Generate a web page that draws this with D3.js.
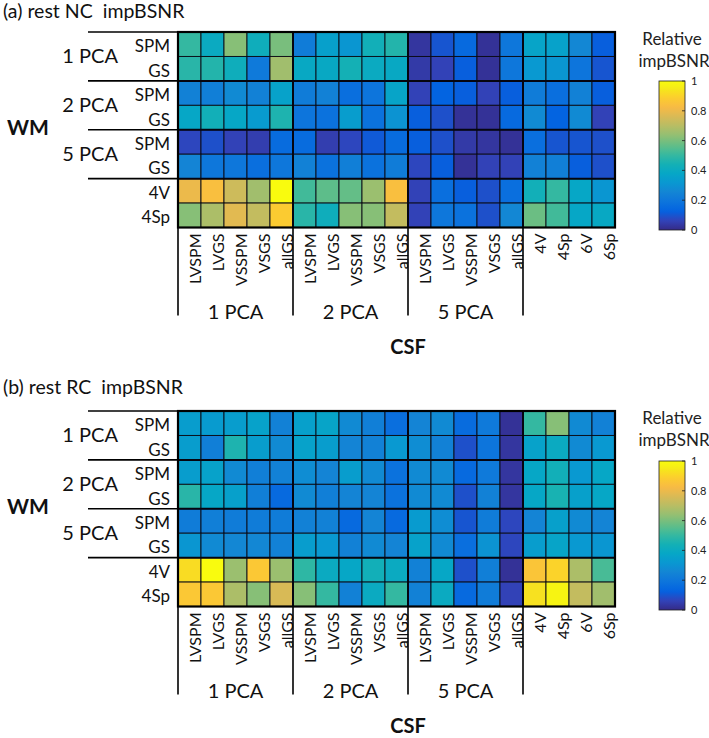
<!DOCTYPE html>
<html>
<head>
<meta charset="utf-8">
<script src="https://cdn.jsdelivr.net/npm/d3@7"></script>
<style>
  html, body { margin: 0; padding: 0; background: #fff; }
  svg { display: block; font-family: Lato, "Open Sans", sans-serif; }
  .ttl { white-space: pre; }
</style>
</head>
<body>
<svg id="chart" width="709" height="738"></svg>
<script>
// ---------------- data ----------------
const csfLabels = ["LVSPM","LVGS","VSSPM","VSGS","allGS",
                   "LVSPM","LVGS","VSSPM","VSGS","allGS",
                   "LVSPM","LVGS","VSSPM","VSGS","allGS",
                   "4V","4Sp","6V","6Sp"];
const csfGroups = ["1 PCA","2 PCA","5 PCA"];
const csfGroupStarts = [0, 5, 10, 15];
const wmLabels = ["SPM","GS","SPM","GS","SPM","GS","4V","4Sp"];
const wmGroups = ["1 PCA","2 PCA","5 PCA"];
const colorbarTicks = [0, 0.2, 0.4, 0.6, 0.8, 1];

const valuesNC = [
  [0.50,0.40,0.62,0.42,0.60,0.22,0.35,0.31,0.43,0.47,0.03,0.10,0.15,0.02,0.20,0.37,0.36,0.26,0.12],
  [0.48,0.47,0.42,0.21,0.66,0.39,0.39,0.44,0.40,0.39,0.04,0.06,0.12,0.02,0.20,0.32,0.31,0.19,0.10],
  [0.24,0.23,0.27,0.24,0.36,0.22,0.24,0.17,0.19,0.37,0.06,0.13,0.12,0.06,0.12,0.22,0.17,0.24,0.12],
  [0.38,0.43,0.38,0.33,0.46,0.19,0.18,0.34,0.18,0.30,0.12,0.09,0.02,0.02,0.15,0.27,0.13,0.27,0.06],
  [0.07,0.09,0.06,0.05,0.16,0.16,0.05,0.07,0.11,0.16,0.12,0.09,0.04,0.03,0.02,0.17,0.10,0.10,0.09],
  [0.25,0.20,0.20,0.17,0.20,0.24,0.18,0.23,0.18,0.22,0.07,0.12,0.02,0.06,0.06,0.24,0.23,0.12,0.09],
  [0.80,0.84,0.74,0.66,1.00,0.52,0.56,0.57,0.65,0.84,0.06,0.17,0.12,0.09,0.17,0.43,0.50,0.38,0.31],
  [0.62,0.68,0.78,0.72,0.88,0.48,0.42,0.62,0.62,0.72,0.06,0.20,0.18,0.09,0.26,0.58,0.52,0.38,0.39]
];

const valuesRC = [
  [0.34,0.33,0.34,0.36,0.24,0.35,0.37,0.27,0.23,0.17,0.25,0.27,0.16,0.21,0.02,0.50,0.62,0.27,0.24],
  [0.34,0.23,0.46,0.34,0.27,0.36,0.34,0.25,0.24,0.32,0.28,0.24,0.09,0.19,0.03,0.36,0.40,0.27,0.32],
  [0.34,0.36,0.27,0.23,0.24,0.28,0.25,0.34,0.27,0.18,0.27,0.27,0.15,0.21,0.03,0.38,0.43,0.32,0.38],
  [0.48,0.38,0.35,0.23,0.15,0.27,0.23,0.25,0.25,0.18,0.27,0.27,0.09,0.24,0.03,0.38,0.45,0.35,0.38],
  [0.22,0.23,0.22,0.22,0.22,0.24,0.24,0.15,0.25,0.15,0.33,0.28,0.10,0.22,0.07,0.25,0.35,0.27,0.25],
  [0.31,0.27,0.26,0.26,0.24,0.34,0.32,0.24,0.27,0.25,0.36,0.27,0.17,0.30,0.07,0.34,0.37,0.32,0.31],
  [0.92,1.00,0.65,0.87,0.65,0.49,0.40,0.38,0.43,0.40,0.24,0.38,0.09,0.23,0.02,0.86,0.90,0.68,0.53],
  [0.87,0.87,0.68,0.62,0.76,0.62,0.50,0.24,0.40,0.50,0.24,0.40,0.15,0.22,0.06,0.93,0.98,0.72,0.66]
];

// parula colormap (subsampled)
const parulaColors = ["#352a87","#3243ba","#0363e1","#0d75dc","#1485d4","#0998d1","#06a7c6",
  "#15b1b4","#38b99e","#65be86","#92bf73","#b7bd64","#d9ba56","#f8ba44","#fcce2e","#f5eb18","#f9fb0e"];
const parulaStops = [0,4,8,12,16,20,24,28,32,36,40,44,48,52,56,60,63].map(i => i / 63);
const color = d3.scaleLinear().domain(parulaStops).range(parulaColors).interpolate(d3.interpolateRgb).clamp(true);

// ---------------- layout ----------------
const svg = d3.select("#chart");
const gridX0 = 178, gridX1 = 615;
const gridH = 195.5;

const defs = svg.append("defs");
const grad = defs.append("linearGradient").attr("id", "parula")
  .attr("x1", 0).attr("y1", 1).attr("x2", 0).attr("y2", 0);
d3.range(0, 1.0001, 0.02).forEach(t => {
  grad.append("stop").attr("offset", t).attr("stop-color", color(t));
});

function drawPanel(values, title, gy, titleY, cbTop, cbTitleY) {
  const g = svg.append("g");
  const x = d3.scaleBand().domain(d3.range(csfLabels.length)).range([gridX0, gridX1]);
  const y = d3.scaleBand().domain(d3.range(wmLabels.length)).range([gy, gy + gridH]);
  const gy1 = gy + gridH;

  // title
  g.append("text").attr("class", "ttl").attr("x", 3).attr("y", titleY)
    .attr("font-size", 19.5).attr("fill", "#111").text(title);

  // cells
  const cells = [];
  values.forEach((row, r) => row.forEach((v, c) => cells.push({r, c, v})));
  g.selectAll("rect.cell").data(cells).join("rect")
    .attr("class", "cell")
    .attr("x", d => x(d.c)).attr("y", d => y(d.r))
    .attr("width", x.bandwidth()).attr("height", y.bandwidth())
    .attr("fill", d => color(d.v))
    .attr("stroke", "#0a0a14").attr("stroke-width", 0.9);

  // group separators inside grid
  csfGroupStarts.slice(1).forEach(i => {
    g.append("line").attr("x1", x(i)).attr("x2", x(i)).attr("y1", gy).attr("y2", gy1)
      .attr("stroke", "#050510").attr("stroke-width", 2);
  });
  [2, 4, 6].forEach(i => {
    g.append("line").attr("x1", gridX0).attr("x2", gridX1).attr("y1", y(i)).attr("y2", y(i))
      .attr("stroke", "#050510").attr("stroke-width", 2);
  });
  g.append("rect").attr("x", gridX0).attr("y", gy).attr("width", gridX1 - gridX0).attr("height", gridH)
    .attr("fill", "none").attr("stroke", "#000").attr("stroke-width", 2.2);

  // left row-group lines
  [0, 2, 4, 6].forEach(i => {
    g.append("line").attr("x1", 88).attr("x2", gridX0).attr("y1", y(i)).attr("y2", y(i))
      .attr("stroke", "#000").attr("stroke-width", 1.6);
  });

  // WM sub labels
  g.selectAll("text.wm").data(wmLabels).join("text")
    .attr("class", "wm")
    .attr("x", 170).attr("y", (d, i) => y(i) + y.bandwidth() / 2 + 8)
    .attr("text-anchor", "end").attr("font-size", 17).attr("fill", "#111")
    .text(d => d);
  // WM group labels
  g.selectAll("text.wmg").data(wmGroups).join("text")
    .attr("class", "wmg")
    .attr("x", 118).attr("y", (d, i) => y(i * 2) + y.bandwidth() + 7)
    .attr("text-anchor", "end").attr("font-size", 20).attr("fill", "#111")
    .text(d => d);
  g.append("text").attr("x", 7).attr("y", gy + gridH / 2 + 5)
    .attr("font-size", 21).attr("font-weight", "bold").attr("fill", "#111").text("WM");

  // CSF column labels (rotated)
  g.selectAll("text.csf").data(csfLabels).join("text")
    .attr("class", "csf")
    .attr("transform", (d, i) => `translate(${x(i) + x.bandwidth() / 2 + 5},${gy1 + 6}) rotate(-90)`)
    .attr("text-anchor", "end").attr("dominant-baseline", "central")
    .attr("font-size", 16).attr("fill", "#111")
    .text(d => d);

  // vertical group lines below grid
  csfGroupStarts.forEach(i => {
    g.append("line").attr("x1", x(i)).attr("x2", x(i)).attr("y1", gy1).attr("y2", gy1 + 88)
      .attr("stroke", "#000").attr("stroke-width", 1.6);
  });
  g.selectAll("text.csfg").data(csfGroups).join("text")
    .attr("class", "csfg")
    .attr("x", (d, i) => (x(csfGroupStarts[i]) + x(csfGroupStarts[i + 1])) / 2)
    .attr("y", gy1 + 91)
    .attr("text-anchor", "middle").attr("font-size", 20).attr("fill", "#111")
    .text(d => d);
  g.append("text").attr("x", 408).attr("y", gy1 + 126)
    .attr("text-anchor", "middle").attr("font-size", 20).attr("font-weight", "bold")
    .attr("fill", "#111").text("CSF");

  // colorbar
  const cbX = 659, cbW = 26, cbH = 149;
  const cy = d3.scaleLinear().domain([0, 1]).range([cbTop + cbH, cbTop]);
  g.append("text").attr("x", 672).attr("y", cbTitleY).attr("text-anchor", "middle")
    .attr("font-size", 17).attr("fill", "#222").text("Relative");
  g.append("text").attr("x", 674).attr("y", cbTitleY + 22).attr("text-anchor", "middle")
    .attr("font-size", 17).attr("fill", "#222").text("impBSNR");
  g.append("rect").attr("x", cbX).attr("y", cbTop).attr("width", cbW).attr("height", cbH)
    .attr("fill", "url(#parula)").attr("stroke", "#222").attr("stroke-width", 0.8);
  const axis = d3.axisRight(cy).tickValues(colorbarTicks).tickSize(0).tickPadding(6)
    .tickFormat(d => d === 0 || d === 1 ? d3.format("d")(d) : d3.format(".1f")(d));
  const ag = g.append("g").attr("transform", `translate(${cbX + cbW},0)`).call(axis);
  ag.select(".domain").remove();
  ag.selectAll("text").attr("font-size", 11).attr("fill", "#222")
    .attr("font-family", "Lato, 'Open Sans', sans-serif");
  colorbarTicks.forEach(t => {
    g.append("line").attr("x1", cbX + cbW - 3).attr("x2", cbX + cbW).attr("y1", cy(t)).attr("y2", cy(t))
      .attr("stroke", "#222").attr("stroke-width", 0.8);
  });
}

drawPanel(valuesNC, "(a) rest NC  impBSNR", 32, 18, 81, 45);
drawPanel(valuesRC, "(b) rest RC  impBSNR", 411, 394, 461, 424);
</script>
</body>
</html>
